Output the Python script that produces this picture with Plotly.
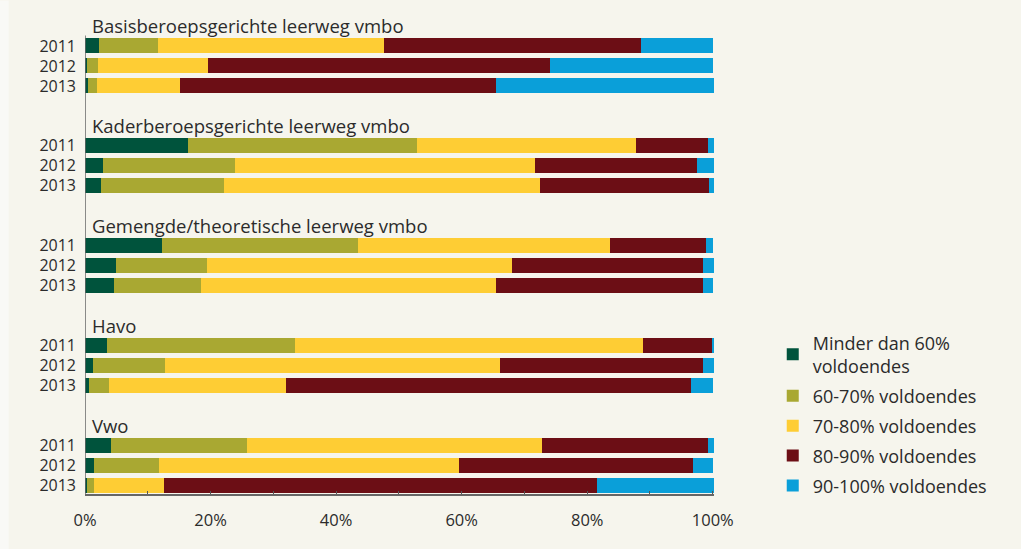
import plotly.graph_objects as go

groups = ["Basisberoepsgerichte leerweg vmbo", "Kaderberoepsgerichte leerweg vmbo",
          "Gemengde/theoretische leerweg vmbo", "Havo", "Vwo"]
years = ["2011", "2012", "2013"]

series_names = ["Minder dan 60%<br>voldoendes", "60-70% voldoendes", "70-80% voldoendes",
                "80-90% voldoendes", "90-100% voldoendes"]
colors = ["#00533c", "#a9a832", "#fecd34", "#6c0e15", "#0a9fd9"]

# values per group, per year (2011, 2012, 2013)
minder60 = [[2.2, 0.3, 0.4], [16.4, 2.8, 2.5], [12.2, 4.9, 4.6], [3.5, 1.2, 0.7], [4.1, 1.5, 0.3]]
p60_70 = [[9.4, 1.7, 1.5], [36.5, 21.1, 19.6], [31.3, 14.5, 13.9], [29.9, 11.5, 3.1], [21.7, 10.3, 1.1]]
p70_80 = [[36.0, 17.6, 13.2], [34.8, 47.8, 50.4], [40.2, 48.6, 47.0], [55.5, 53.4, 28.2], [47.0, 47.8, 11.2]]
p80_90 = [[40.9, 54.4, 50.4], [11.6, 25.8, 26.9], [15.3, 30.5, 33.0], [11.0, 32.4, 64.6], [26.5, 37.2, 69.0]]
p90_100 = [[11.6, 26.0, 34.7], [0.9, 2.7, 0.8], [1.0, 1.7, 1.5], [0.3, 1.7, 3.4], [0.9, 3.2, 18.6]]

all_series = [minder60, p60_70, p70_80, p80_90, p90_100]

rows, row_labels = [], []
for g in range(len(groups)):
    for j, yr in enumerate(years):
        rows.append(g * 5 + j)
        row_labels.append(yr)

W, H = 1021, 549
L, R, T, B = 85.3, 307, 15.5, 55
PW, PH = W - L - R, H - T - B

fig = go.Figure()
for i, (name, col, data) in enumerate(zip(series_names, colors, all_series)):
    vals = [v for grp in data for v in grp]
    fig.add_trace(go.Bar(x=vals, y=rows, orientation="h", name=name, legendgroup=f"g{i}",
                         marker=dict(color=col, line=dict(width=0)), width=0.75))

for g, title in enumerate(groups):
    fig.add_annotation(x=0, y=g * 5 - 1, xref="x", yref="y", text=title, showarrow=False,
                       xanchor="left", yanchor="middle", xshift=5,
                       font=dict(family="Open Sans", size=18.5, color="#2b2b2b"))

# vertical axis line (only over the bar area)
fig.add_shape(type="line", xref="x", yref="y", x0=0, x1=0, y0=-0.525, y1=22.425,
              line=dict(color="#666", width=1.5), layer="above")
# light strip along the left edge of the image
fig.add_shape(type="rect", xref="paper", yref="paper", x0=-L / PW, x1=(9 - L) / PW,
              y0=-B / PH, y1=1 + T / PH, fillcolor="#f9f9f6", line=dict(width=0), layer="below")

bg = "#f6f5ed"
fig.update_layout(
    width=W, height=H, barmode="stack",
    paper_bgcolor=bg, plot_bgcolor=bg,
    margin=dict(l=L, r=R, t=T, b=B),
    font=dict(family="Open Sans", size=16, color="#2b2b2b"),
    bargap=0,
    legend=dict(x=1.0934, y=0.355, xanchor="left", yanchor="top", traceorder="grouped",
                font=dict(size=18, color="#2b2b2b"), bgcolor="rgba(0,0,0,0)",
                tracegroupgap=3.5, itemwidth=30),
    showlegend=True,
)
fig.update_xaxes(range=[0, 100.2], tickvals=list(range(0, 101, 10)),
                 ticktext=[f"{v}%" if v % 20 == 0 else "" for v in range(0, 101, 10)],
                 ticks="inside", ticklen=3, tickcolor="#555", showline=True, linecolor="#666",
                 linewidth=1.5, showgrid=False, zeroline=False, ticklabelstandoff=10,
                 tickfont=dict(size=16.5, color="#2b2b2b"))
fig.update_yaxes(range=[22.425, -1.5], tickvals=rows, ticktext=row_labels, showline=False,
                 showgrid=False, zeroline=False,
                 ticks="", ticklabelstandoff=8, tickfont=dict(size=16, color="#2b2b2b"))

fig.write_html("out.html", config={"displayModeBar": False},
               post_script="document.body.style.margin='0';document.body.style.background='#f6f5ed';")
